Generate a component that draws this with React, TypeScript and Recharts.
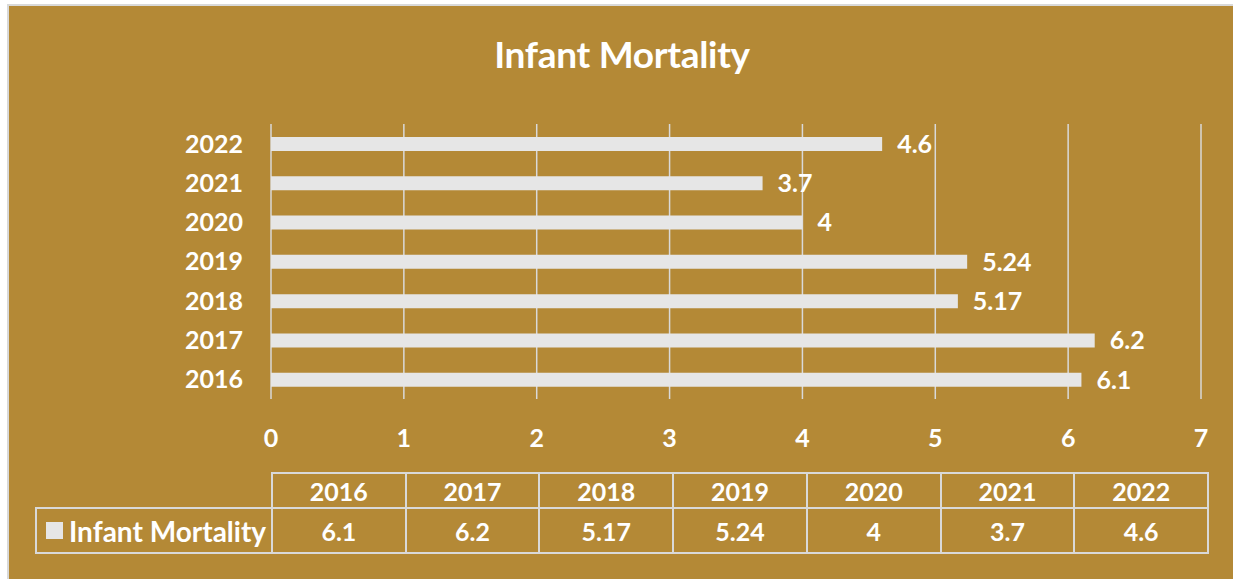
import { BarChart, Bar, XAxis, YAxis, CartesianGrid, LabelList } from 'recharts'

const years = ['2016', '2017', '2018', '2019', '2020', '2021', '2022']
const mortality = [6.1, 6.2, 5.17, 5.24, 4, 3.7, 4.6]
const xTicks = [0, 1, 2, 3, 4, 5, 6, 7]
const seriesName = 'Infant Mortality'
const title = 'Infant Mortality'

const data = years.map((year, i) => ({ year, value: mortality[i] }))

const BG = '#B48936'
const LINE = '#D9D9D9'
const BAR = '#E6E6E6'
const FONT = 'Lato, "Open Sans", sans-serif'

const W = 1233
const H = 579
const PLOT_LEFT = 271
const PLOT_RIGHT = 1201
const PLOT_TOP = 124
const PLOT_BOTTOM = 399
const X_AXIS_H = 40

// data table under the plot
const TABLE_LEFT = 272
const TABLE_RIGHT = 1208
const ROW1_TOP = 473
const ROW2_TOP = 508
const ROW2_BOTTOM = 553
const LEGEND_LEFT = 36
const colW = (TABLE_RIGHT - TABLE_LEFT) / years.length

const txt = { fill: '#FFFFFF', fontSize: 25, fontWeight: 700, fontFamily: FONT }

function DataTable() {
  const cell = (left: number, top: number, width: number, height: number): React.CSSProperties => ({
    position: 'absolute', left, top, width, height, boxSizing: 'border-box',
    border: `2px solid ${LINE}`, display: 'flex', alignItems: 'center', justifyContent: 'center',
    color: '#fff', fontFamily: FONT, fontWeight: 700, fontSize: 25, marginLeft: -1, marginTop: -1,
  })
  return (
    <>
      {years.map((y, i) => (
        <div key={'h' + y} style={cell(TABLE_LEFT + i * colW, ROW1_TOP, colW + 2, ROW2_TOP - ROW1_TOP + 2)}>{y}</div>
      ))}
      <div style={{ ...cell(LEGEND_LEFT, ROW2_TOP, TABLE_LEFT - LEGEND_LEFT + 2, ROW2_BOTTOM - ROW2_TOP + 2), justifyContent: 'flex-start', paddingLeft: 9, fontSize: 28 }}>
        <span style={{ display: 'inline-block', width: 17, height: 17, background: BAR, marginRight: 6 }} />
        {seriesName}
      </div>
      {mortality.map((v, i) => (
        <div key={'v' + i} style={cell(TABLE_LEFT + i * colW, ROW2_TOP, colW + 2, ROW2_BOTTOM - ROW2_TOP + 2)}>{v}</div>
      ))}
    </>
  )
}

export default function App() {
  return (
    <div style={{ position: 'absolute', left: 0, top: 0, width: W, height: H, overflow: 'hidden', background: '#fff' }}>
      <div style={{ position: 'absolute', left: 7, top: 4, width: W + 20, height: H + 20, background: BG, border: `2px solid ${LINE}`, boxSizing: 'border-box' }} />
      <div style={{ position: 'absolute', left: 0, width: W + 11, top: 31, textAlign: 'center', color: '#fff', fontFamily: FONT, fontWeight: 700, fontSize: 37, letterSpacing: -0.3 }}>
        {title}
      </div>
      <div style={{ position: 'absolute', left: 0, top: 0 }}>
        <BarChart
          width={W}
          height={H}
          data={data}
          layout="vertical"
          margin={{ top: PLOT_TOP, right: W - PLOT_RIGHT, bottom: H - PLOT_BOTTOM - X_AXIS_H, left: 0 }}
        >
          <CartesianGrid horizontal={false} stroke={LINE} strokeWidth={1.5} />
          <XAxis type="number" domain={[0, 7]} ticks={xTicks} height={X_AXIS_H}
            axisLine={false} tickLine={false} tickSize={0} tickMargin={30} tick={txt} />
          <YAxis type="category" dataKey="year" reversed width={PLOT_LEFT}
            axisLine={false} tickLine={false} tickSize={0} tickMargin={28} tick={txt} />
          <Bar dataKey="value" name={seriesName} fill={BAR} barSize={14} isAnimationActive={false}>
            <LabelList dataKey="value" position="right" offset={15} style={txt} fill="#FFFFFF" />
          </Bar>
        </BarChart>
      </div>
      <DataTable />
    </div>
  )
}
